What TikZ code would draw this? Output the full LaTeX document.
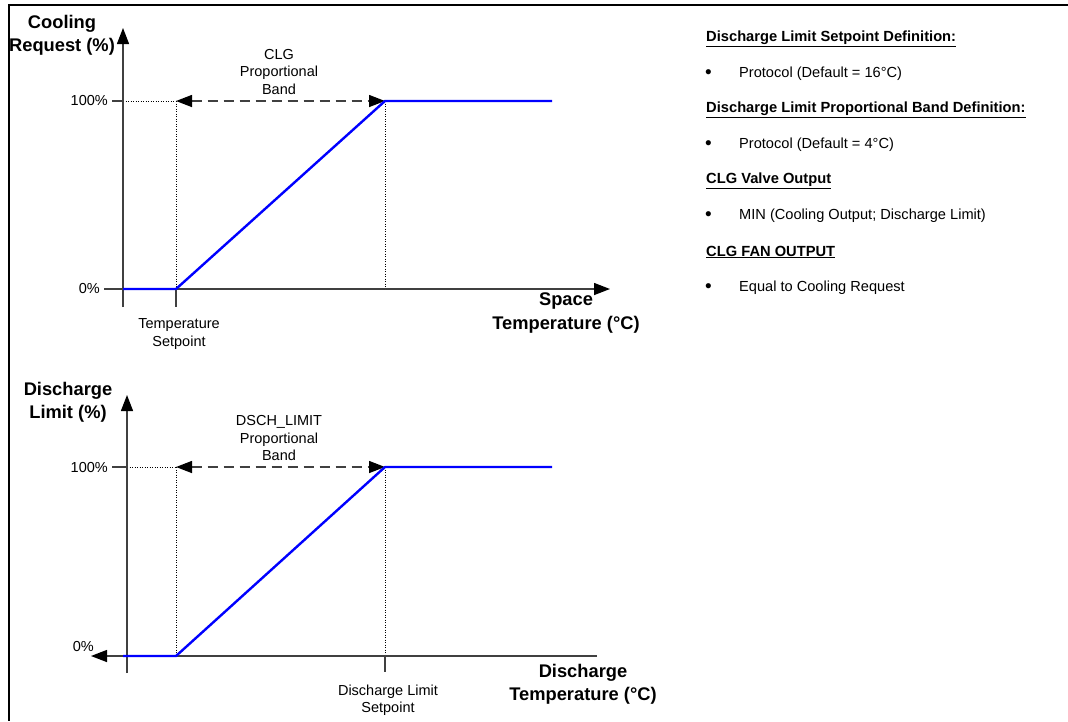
\documentclass[tikz,border=0pt]{standalone}
\usepackage{fontspec}
\setmainfont{Liberation Sans}
\usetikzlibrary{arrows.meta}
\definecolor{axisgray}{RGB}{64,64,64}
\definecolor{curveblue}{RGB}{0,0,255}
\tikzset{
  tip/.tip={Triangle[length=16pt,width=12pt,color=black,fill=black]},
  axisline/.style={draw=axisgray, line width=1.4pt},
  axisarrow/.style={axisline, -tip},
  guide/.style={draw=black, line width=0.9pt, dash pattern=on 1pt off 1.5pt},
  bandarrow/.style={draw=axisgray, line width=1.4pt, dash pattern=on 10pt off 6pt, tip-tip},
  curve/.style={draw=curveblue, line width=2.4pt, line join=round},
  ticklab/.style={inner sep=0pt, font=\fontsize{14.5}{17.5}\selectfont},
  smalllab/.style={inner sep=0pt, align=center, font=\fontsize{14.5}{17.5}\selectfont},
  bigbold/.style={inner sep=0pt, align=center, font=\fontsize{18.3}{23.5}\selectfont\bfseries},
  heading/.style={inner sep=0pt, anchor=west, font=\fontsize{14.7}{17.5}\selectfont\bfseries},
  bulletitem/.style={inner sep=0pt, anchor=west, font=\fontsize{14.6}{17.5}\selectfont},
  bulletdot/.style={inner sep=0pt, anchor=west, font=\fontsize{19}{20}\selectfont},
  frame/.style={draw=black, line width=2.2pt}
}
\begin{document}
\begin{tikzpicture}[x=1pt,y=-1pt]
\useasboundingbox (0,0) rectangle (1068,721);
% frame (top and left edges only)
\coordinate (fTR) at (1068,5);
\coordinate (fTL) at (9,5);
\coordinate (fBL) at (9,721);
\draw[frame] (fTR) -- (fTL) -- (fBL);

% ===== Top chart =====
\coordinate (aYbot) at (123,307);
\coordinate (aYtop) at (123,28);
\coordinate (aXl) at (104,289);
\coordinate (aXr) at (610,289);
\coordinate (aO) at (123,289);
\coordinate (aSp) at (176,289);
\coordinate (aSpT) at (176,101);
\coordinate (aSpB) at (176,307);
\coordinate (aE) at (385,289);
\coordinate (aET) at (385,101);
\coordinate (aEnd) at (552,101);
\coordinate (aH) at (123,101);
\coordinate (aHt) at (112,101);

\draw[guide] (aH) -- (aSpT);
\draw[guide] (aSpT) -- (aSp);
\draw[guide] (aET) -- (aE);
\draw[axisline] (aHt) -- (aH);
\draw[axisline] (aSp) -- (aSpB);
\draw[axisarrow] (aYbot) -- (aYtop);
\draw[axisarrow] (aXl) -- (aXr);
\draw[bandarrow] (aSpT) -- (aET);
\draw[curve] (aO) -- (aSp) -- (aET) -- (aEnd);

\node[bigbold] (ylabA) at (62,35.5) {Cooling\\Request (\%)};
\node[smalllab] (bandA) at (279,72) {CLG\\Proportional\\Band};
\node[ticklab, anchor=east] (hundA) at (108,101) {100\%};
\node[ticklab, anchor=east] (zeroA) at (100,289) {0\%};
\node[smalllab] (spA) at (179,334) {Temperature\\Setpoint};
\node[bigbold] (xlabA) at (566,313) {Space\\Temperature (°C)};

% ===== Bottom chart =====
\coordinate (bYbot) at (127,673);
\coordinate (bYtop) at (127,395);
\coordinate (bXl) at (91,656);
\coordinate (bXr) at (597,656);
\coordinate (bO) at (123,656);
\coordinate (bSp) at (176,656);
\coordinate (bSpT) at (176,467);
\coordinate (bE) at (385,656);
\coordinate (bET) at (385,467);
\coordinate (bEB) at (385,672);
\coordinate (bEnd) at (552,467);
\coordinate (bH) at (127,467);
\coordinate (bHt) at (112,467);

\draw[guide] (bH) -- (bSpT);
\draw[guide] (bSpT) -- (bSp);
\draw[guide] (bET) -- (bE);
\draw[axisline] (bHt) -- (bH);
\draw[axisline] (bE) -- (bEB);
\draw[axisarrow] (bYbot) -- (bYtop);
\draw[axisarrow] (bXr) -- (bXl);
\draw[bandarrow] (bSpT) -- (bET);
\draw[curve] (bO) -- (bSp) -- (bET) -- (bEnd);

\node[bigbold] (ylabB) at (68,402.5) {Discharge\\Limit (\%)};
\node[smalllab] (bandB) at (279,438) {DSCH\_LIMIT\\Proportional\\Band};
\node[ticklab, anchor=east] (hundB) at (108,467) {100\%};
\node[ticklab, anchor=east] (zeroB) at (94,646) {0\%};
\node[smalllab] (spB) at (388,700) {Discharge Limit\\Setpoint};
\node[bigbold] (xlabB) at (583,684.5) {Discharge\\Temperature (°C)};

% ===== Right-hand notes =====
\node[heading] (h1) at (706,39) {\underline{Discharge Limit Setpoint Definition:}};
\node[bulletdot] (b1) at (705,74) {•};
\node[bulletitem] (t1) at (739,74) {Protocol (Default = 16°C)};
\node[heading] (h2) at (706,110) {\underline{Discharge Limit Proportional Band Definition:}};
\node[bulletdot] (b2) at (705,145) {•};
\node[bulletitem] (t2) at (739,145) {Protocol (Default = 4°C)};
\node[heading] (h3) at (706,181) {\underline{CLG Valve Output}};
\node[bulletdot] (b3) at (705,216) {•};
\node[bulletitem] (t3) at (739,216) {MIN (Cooling Output; Discharge Limit)};
\node[heading] (h4) at (706,252) {\underline{CLG FAN OUTPUT}};
\node[bulletdot] (b4) at (705,288) {•};
\node[bulletitem] (t4) at (739,288) {Equal to Cooling Request};
\end{tikzpicture}
\end{document}
